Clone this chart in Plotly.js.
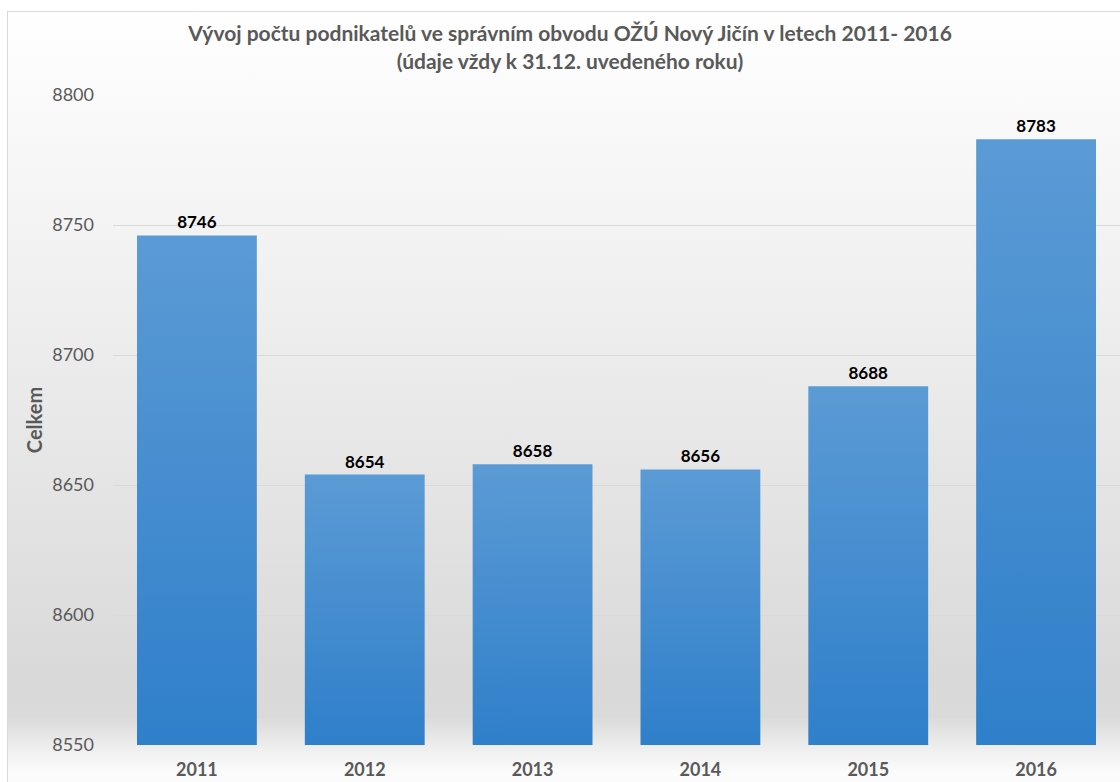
<!DOCTYPE html>
<html>
<head>
<meta charset="utf-8">
<script src="https://cdn.plot.ly/plotly-3.0.1.min.js"></script>
<style>
  html, body { margin:0; padding:0; background:#ffffff; width:1120px; height:782px; overflow:hidden; }
  #bg { position:absolute; left:7px; top:11px; width:1200px; height:800px;
        border-left:1px solid #d9d9d9; border-top:1px solid #d9d9d9;
        background: linear-gradient(to bottom, #ffffff 0px, #f4f4f4 200px, #e6e6e6 450px, #d9d9d9 665px, #dadada 705px, #ededed 734px, #fbfbfb 760px, #fdfdfd 800px); }
  #chart { position:absolute; left:0; top:0; width:1120px; height:782px; }
</style>
</head>
<body>
<div id="bg"></div>
<div id="chart"></div>
<script>
const years = ['2011', '2012', '2013', '2014', '2015', '2016'];
const counts = [8746, 8654, 8658, 8656, 8688, 8783];
const yTicks = [8550, 8600, 8650, 8700, 8750, 8800];

const chartTitle = 'Vývoj počtu podnikatelů ve správním obvodu OŽÚ Nový Jičín v letech 2011- 2016<br>(údaje vždy k 31.12. uvedeného roku)';
const yTitle = 'Celkem';

const trace = {
  type: 'bar',
  x: years,
  y: counts,
  marker: { color: '#4a8ed2', line: { width: 0 } },
  text: counts.map(String),
  textposition: 'outside',
  cliponaxis: true,
  textfont: { family: 'Lato, sans-serif', size: 17, color: '#000000', weight: 'bold' },
  hoverinfo: 'none'
};

const layout = {
  width: 1120,
  height: 782,
  margin: { l: 113, r: 0, t: 95, b: 37 },
  paper_bgcolor: 'rgba(0,0,0,0)',
  plot_bgcolor: 'rgba(0,0,0,0)',
  showlegend: false,
  bargap: 0.286,
  title: {
    text: chartTitle,
    x: 0.509, xref: 'container', xanchor: 'center',
    y: 0.947, yref: 'container', yanchor: 'middle',
    font: { family: 'Lato, sans-serif', size: 21, color: '#595959', weight: 'bold' }
  },
  xaxis: {
    type: 'category',
    showgrid: false,
    showline: false,
    ticks: '',
    ticklabelstandoff: 12,
    tickfont: { family: 'Lato, sans-serif', size: 18, color: '#595959', weight: 'bold' }
  },
  yaxis: {
    range: [8550, 8800],
    tickvals: yTicks,
    ticktext: yTicks.map(String),
    showgrid: true,
    gridcolor: '#d9d9d9',
    gridwidth: 1,
    zeroline: false,
    showline: false,
    ticks: '',
    ticklabelstandoff: 18,
    tickfont: { family: 'Lato, sans-serif', size: 18, color: '#595959' },
    title: {
      text: yTitle,
      standoff: 4,
      font: { family: 'Lato, sans-serif', size: 20, color: '#595959', weight: 'bold' }
    }
  }
};

Plotly.newPlot('chart', [trace], layout, { displayModeBar: false, staticPlot: true }).then(function (gd) {
  const svg = gd.querySelector('svg.main-svg');
  const ns = 'http://www.w3.org/2000/svg';
  let defs = svg.querySelector('defs');
  if (!defs) { defs = document.createElementNS(ns, 'defs'); svg.insertBefore(defs, svg.firstChild); }
  const plotH = gd._fullLayout._size.h;
  gd.querySelectorAll('.bars .point path').forEach(function (p, i) {
    const bb = p.getBBox();
    const g = document.createElementNS(ns, 'linearGradient');
    const id = 'barGrad' + i;
    g.setAttribute('id', id);
    g.setAttribute('gradientUnits', 'userSpaceOnUse');
    g.setAttribute('x1', '0'); g.setAttribute('x2', '0');
    g.setAttribute('y1', String(Math.max(bb.y, 0)));
    g.setAttribute('y2', String(plotH));
    [['0', '#5b9bd5'], ['1', '#2f7fca']].forEach(function (s) {
      const st = document.createElementNS(ns, 'stop');
      st.setAttribute('offset', s[0]);
      st.setAttribute('stop-color', s[1]);
      g.appendChild(st);
    });
    defs.appendChild(g);
    p.style.fill = 'url(#' + id + ')';
  });
});
</script>
</body>
</html>
